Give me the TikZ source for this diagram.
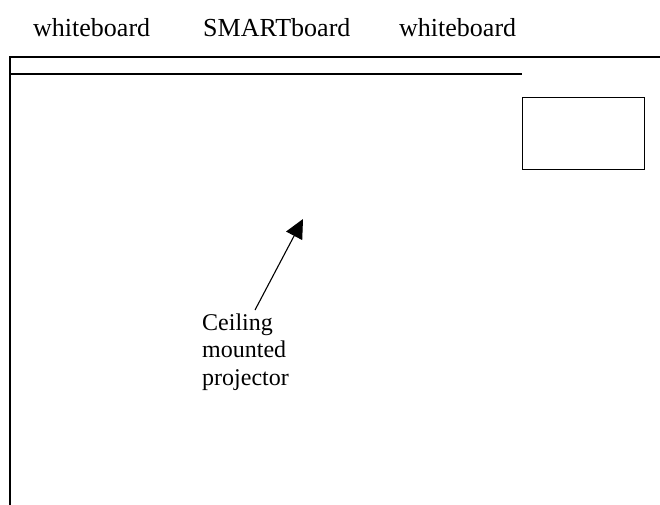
\documentclass[tikz,border=0pt]{standalone}
\usepackage{fontspec}
\setmainfont{Liberation Serif}
\usetikzlibrary{arrows.meta}
\begin{document}
\begin{tikzpicture}[x=1pt,y=-1pt,
  wall/.style={line width=1.4pt},
  toplabel/.style={anchor=base west,inner sep=0pt,font=\fontsize{26}{30}\selectfont},
  notelabel/.style={anchor=north west,inner sep=0pt,align=left,font=\fontsize{24}{27.5}\selectfont},
  screen/.style={draw,line width=1.3pt},
  pointer/.style={line width=1.1pt,-{Triangle[length=19pt,width=18pt]}}]
\useasboundingbox (0,0) rectangle (660,505);
% labels above the front wall
\node[toplabel] (wb1) at (33,37) {whiteboard};
\node[toplabel] (smart) at (203,37) {SMARTboard};
\node[toplabel] (wb2) at (399,37) {whiteboard};
% walls
\coordinate (tl) at (10,57);
\coordinate (tr) at (660,57);
\coordinate (bl) at (10,505);
\coordinate (bs) at (10,74);
\coordinate (be) at (522,74);
\draw[wall] (tr) -- (tl) -- (bl);
\draw[wall] (bs) -- (be);
% screen box
\node[screen,minimum width=122pt,minimum height=72pt,anchor=north west,inner sep=0pt] (box) at (522,97) {};
% projector label and arrow
\node[notelabel] (proj) at (202,313.5) {Ceiling\\mounted\\projector};
\coordinate (tail) at (255,310);
\coordinate (tip) at (303,219);
\draw[pointer] (tail) -- (tip);
\end{tikzpicture}
\end{document}
